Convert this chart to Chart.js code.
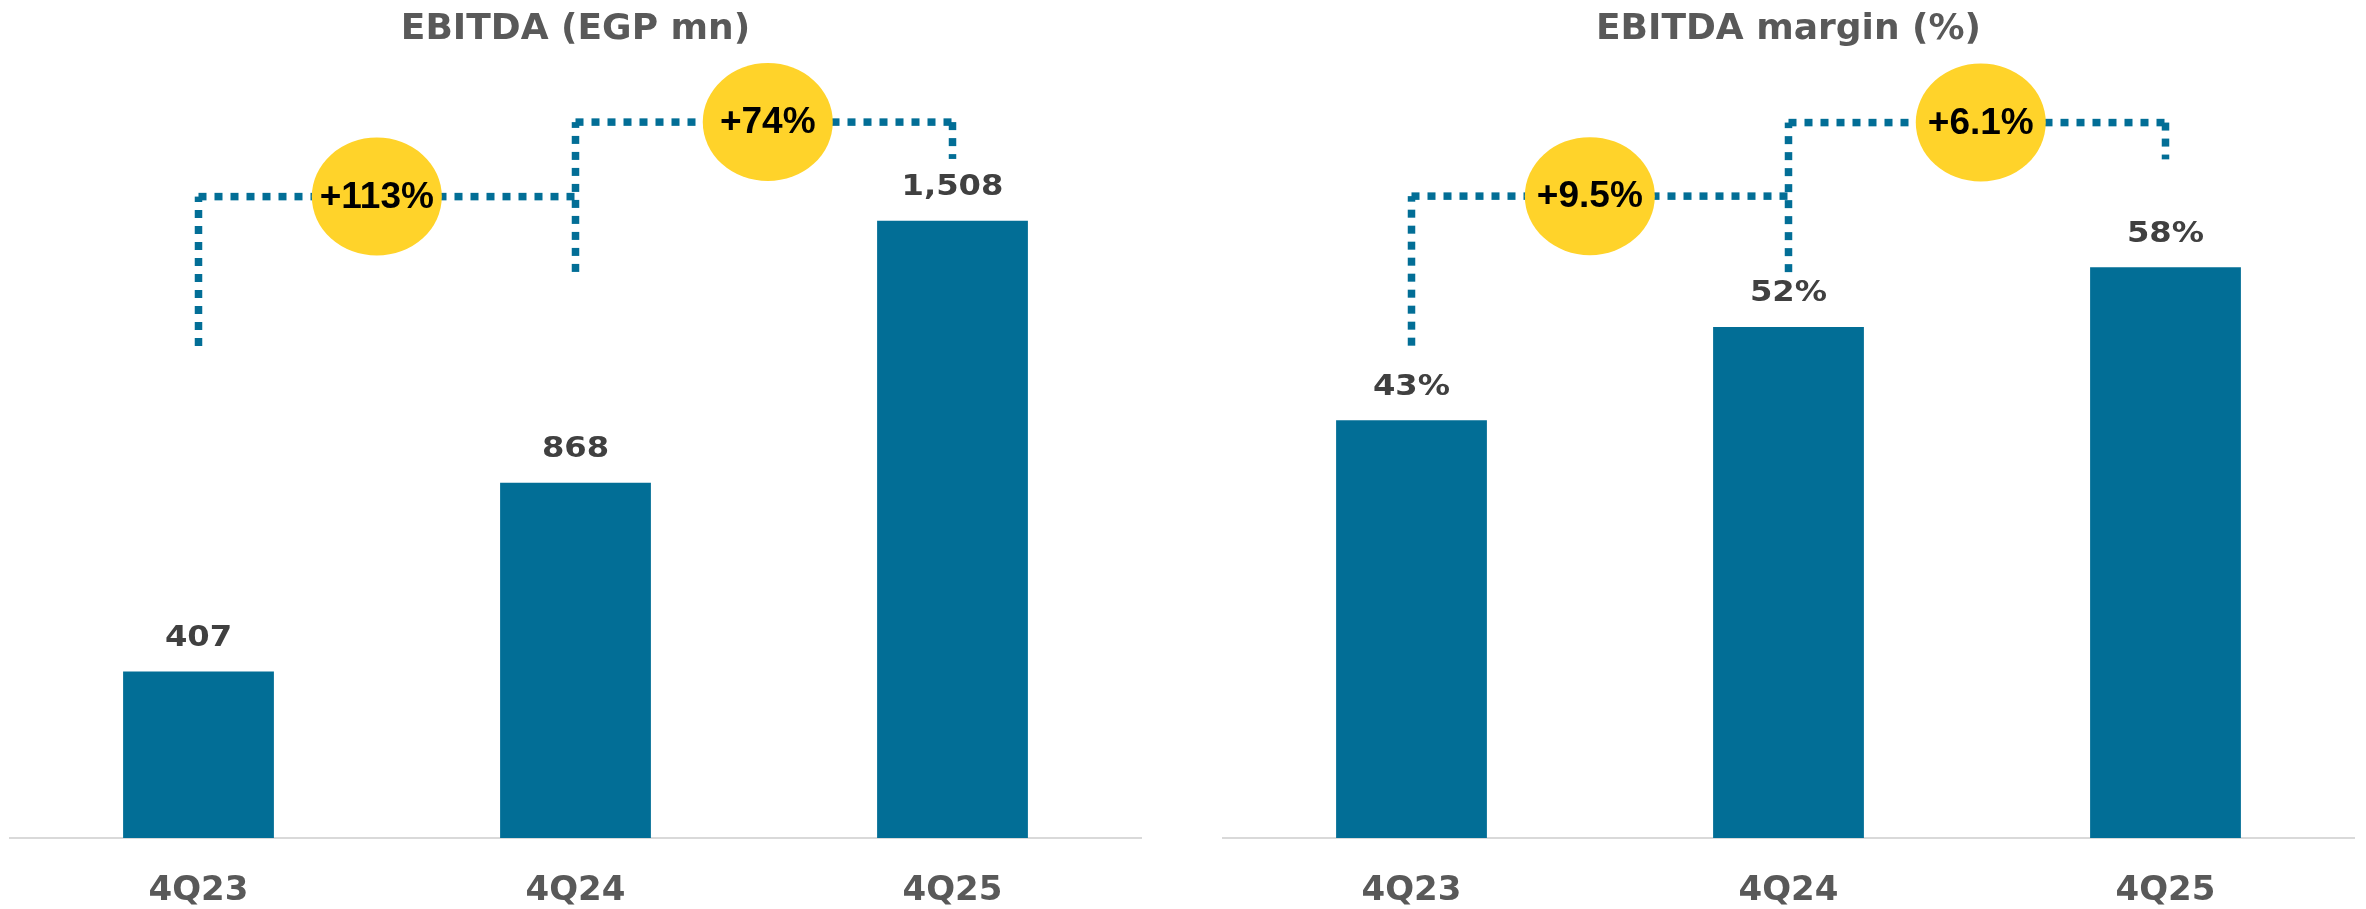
<!DOCTYPE html>
<html>
<head>
<meta charset="utf-8">
<script src="https://cdn.jsdelivr.net/npm/chart.js@4.4.1/dist/chart.umd.min.js"></script>
<style>
  html, body { margin: 0; padding: 0; background: #ffffff; overflow: hidden; }
  #wrap { position: relative; width: 2366px; height: 909px; overflow: hidden; }
  canvas { position: absolute; top: 0; }
  #leftChart { left: 0; }
  #rightChart { left: 1183px; }
</style>
</head>
<body>
<div id="wrap">
<canvas id="leftChart" width="1183" height="944" style="width:1183px;height:944px"></canvas>
<canvas id="rightChart" width="1183" height="944" style="width:1183px;height:944px"></canvas>
</div>
<script>
// ---- data ----
const categories = ['4Q23', '4Q24', '4Q25'];
const ebitdaValues = [407, 868, 1508];          // EGP mn
const marginValues = [42.6, 52.1, 58.2];        // %
const ebitdaGrowth = ['+113%', '+74%'];
const marginGrowth = ['+9.5%', '+6.1%'];
const ebitdaTitle = 'EBITDA (EGP mn)';
const marginTitle = 'EBITDA margin (%)';

// ---- styles ----
const BAR_COLOR = '#026e96';
const YELLOW = '#ffd32a';
const TITLE_COLOR = '#595959';
const LABEL_COLOR = '#404040';

const annotPlugin = {
  id: 'annot',
  afterDatasetsDraw(chart, args, opts) {
    const ctx = chart.ctx;
    const xs = chart.scales.x, ys = chart.scales.y;
    const meta = chart.getDatasetMeta(0);
    // dotted brackets
    ctx.save();
    ctx.strokeStyle = BAR_COLOR;
    ctx.lineWidth = 7.5;
    ctx.lineCap = 'butt';
    ctx.setLineDash([8, 8]);
    opts.brackets.forEach(b => {
      const x1 = xs.getPixelForValue(b.from);
      const x2 = xs.getPixelForValue(b.to);
      const yl = ys.getPixelForValue(b.level);
      const yb1 = ys.getPixelForValue(b.leftBottom);
      const yb2 = ys.getPixelForValue(b.rightBottom);
      ctx.beginPath(); ctx.moveTo(x1, yb1); ctx.lineTo(x1, yl); ctx.stroke();
      ctx.beginPath(); ctx.moveTo(x1, yl); ctx.lineTo(x2, yl); ctx.stroke();
      if (b.rightBottom !== b.level) {
        ctx.beginPath(); ctx.moveTo(x2, yl); ctx.lineTo(x2, yb2); ctx.stroke();
      }
    });
    ctx.setLineDash([]);
    // yellow bubbles
    opts.brackets.forEach((b, i) => {
      const cx = xs.getPixelForValue(b.bubble);
      const cy = ys.getPixelForValue(b.level);
      ctx.fillStyle = YELLOW;
      ctx.beginPath();
      ctx.ellipse(cx, cy, 65, 59, 0, 0, Math.PI * 2);
      ctx.fill();
      ctx.fillStyle = '#000000';
      ctx.font = 'bold 37px "Liberation Sans"';
      ctx.textAlign = 'center';
      ctx.textBaseline = 'middle';
      ctx.fillText(opts.growth[i], cx, cy + 1);
    });
    // value labels
    ctx.fillStyle = LABEL_COLOR;
    ctx.font = 'bold 28px "DejaVu Sans"';
    ctx.textAlign = 'center';
    ctx.textBaseline = 'middle';
    meta.data.forEach((bar, i) => {
      const txt = opts.format(chart.data.datasets[0].data[i]);
      ctx.save();
      ctx.translate(bar.x, bar.y - 33);
      ctx.scale(1.15, 1);
      ctx.fillText(txt, 0, 0);
      ctx.restore();
    });
    ctx.restore();
  }
};

function makeChart(id, title, values, yMax, padL, padR, annot) {
  return new Chart(document.getElementById(id), {
    type: 'bar',
    data: {
      labels: categories,
      datasets: [{
        data: values,
        backgroundColor: BAR_COLOR,
        borderWidth: 0,
        categoryPercentage: 0.8,
        barPercentage: 0.5
      }]
    },
    options: {
      responsive: false,
      maintainAspectRatio: false,
      devicePixelRatio: 1,
      animation: false,
      layout: { padding: { left: padL, right: padR, top: 0, bottom: 0 } },
      plugins: {
        legend: { display: false },
        tooltip: { enabled: false },
        title: {
          display: true,
          text: title,
          color: TITLE_COLOR,
          font: { family: '"DejaVu Sans"', size: 36, weight: 'bold', lineHeight: 1.2 },
          padding: { top: 8, bottom: 9.1 }
        },
        annot: annot
      },
      scales: {
        x: {
          grid: { display: false, drawTicks: false },
          border: { display: true, color: '#d9d9d9', width: 2 },
          ticks: {
            color: TITLE_COLOR,
            padding: 36,
            font: { family: '"DejaVu Sans"', size: 34, weight: 'bold', lineHeight: 1 }
          }
        },
        y: {
          display: false,
          min: 0,
          max: yMax
        }
      }
    },
    plugins: [annotPlugin]
  });
}

makeChart('leftChart', ebitdaTitle, ebitdaValues, 1900, 10, 42, {
  growth: ebitdaGrowth,
  format: v => v.toLocaleString('en-US'),
  brackets: [
    { from: 0, to: 1, level: 1567, leftBottom: 1202, rightBottom: 1567, bubble: 0.473 },
    { from: 1, to: 2, level: 1749, leftBottom: 1383, rightBottom: 1659, bubble: 1.51 }
  ]
});

makeChart('rightChart', marginTitle, marginValues, 79.3, 40, 12, {
  growth: marginGrowth,
  format: v => Math.round(v) + '%',
  brackets: [
    { from: 0, to: 1, level: 65.45, leftBottom: 50.2, rightBottom: 65.45, bubble: 0.473 },
    { from: 1, to: 2, level: 72.95, leftBottom: 57.7, rightBottom: 69.2, bubble: 1.51 }
  ]
});
</script>
</body>
</html>
